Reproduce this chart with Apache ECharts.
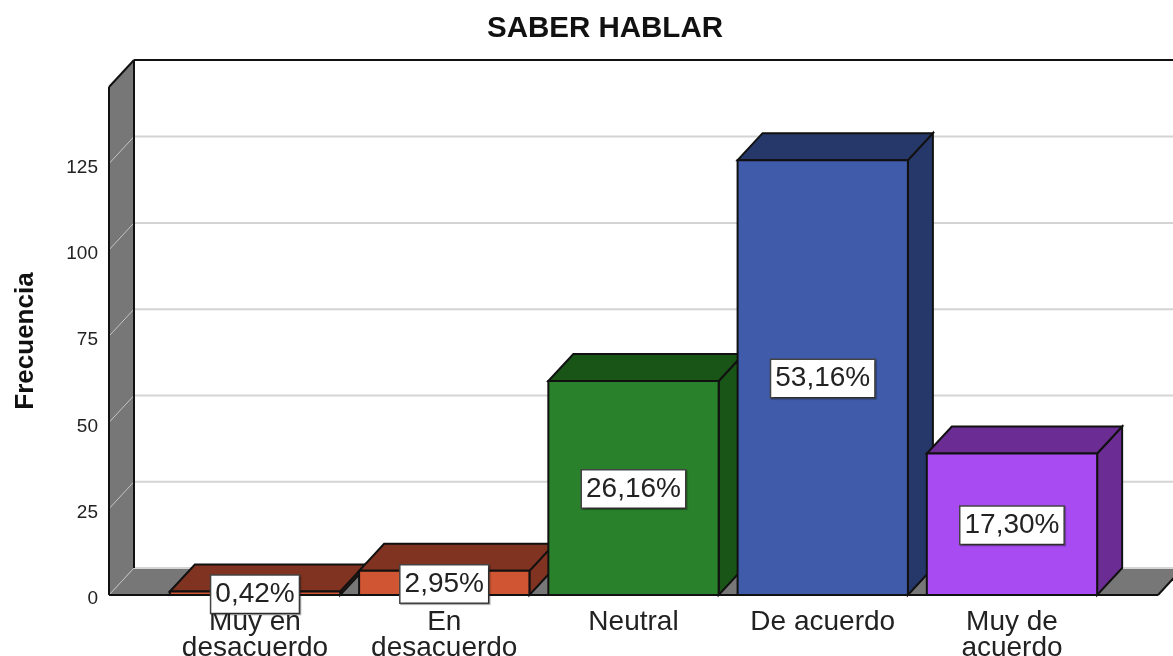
<!DOCTYPE html>
<html>
<head>
<meta charset="utf-8">
<style>html,body{margin:0;padding:0;background:#fff}#c{width:1173px;height:656px}</style>
<script src="https://cdn.jsdelivr.net/npm/echarts@6/dist/echarts.min.js"></script>
</head>
<body>
<div id="c"></div>
<script>
const categories = ['Muy en\ndesacuerdo', 'En\ndesacuerdo', 'Neutral', 'De acuerdo', 'Muy de\nacuerdo'];
const counts = [1, 7, 62, 126, 41];
const percentLabels = ['0,42%', '2,95%', '26,16%', '53,16%', '17,30%'];
const tickValues = [0, 25, 50, 75, 100, 125];
const frontColors = ['#d05533', '#d05533', '#29822b', '#3f5ba9', '#a94bf2'];
const darkColors = ['#7f3320', '#7f3320', '#1a5518', '#263869', '#6b2c93'];

const DX = 25, DY = 27, WALL_LEFT = 51.4, FLOOR_RIGHT = 51.4;
const WALL = '#777777', GRID = '#d4d4d4', INK = '#111111';
const FONT = '"Liberation Sans", Arial, sans-serif';

function poly(points, fill, stroke, lw) {
  return { type: 'polygon', shape: { points }, style: { fill, stroke: stroke || 'none', lineWidth: lw || 0 } };
}
function line(x1, y1, x2, y2, stroke, lw) {
  return { type: 'line', shape: { x1, y1, x2, y2 }, style: { stroke, lineWidth: lw } };
}

const chart = echarts.init(document.getElementById('c'), null, { renderer: 'canvas' });
chart.setOption({
  animation: false,
  backgroundColor: '#fff',
  title: {
    text: 'SABER HABLAR', left: 482, top: 9,
    textStyle: { fontFamily: FONT, fontWeight: 'bold', fontSize: 29.5, color: '#111' }
  },
  grid: { left: 160.4, top: 87, width: 946.2, height: 508, outerBoundsMode: 'none' },
  xAxis: {
    type: 'category', data: categories,
    axisLine: { show: false }, axisTick: { show: false }, splitLine: { show: false },
    axisLabel: { interval: 0, margin: 14, fontFamily: FONT, fontSize: 28, lineHeight: 26, color: '#222' }
  },
  yAxis: {
    type: 'value', min: 0, max: 147.2, interval: 25, offset: 51.4,
    name: 'Frecuencia', nameLocation: 'middle', nameRotate: 90, nameGap: 70,
    nameTextStyle: { fontFamily: FONT, fontWeight: 'bold', fontSize: 26, color: '#111' },
    axisLine: { show: false }, axisTick: { show: false }, splitLine: { show: false },
    axisLabel: { margin: 11, showMaxLabel: false, fontFamily: FONT, fontSize: 19, color: '#222', verticalAlign: 'top', lineHeight: 8 }
  },
  series: [
    {
      type: 'custom', name: 'walls', coordinateSystem: 'cartesian2d', silent: true, z: 2,
      data: [[0, 0]],
      renderItem(params, api) {
        const c = params.coordSys;
        const L = c.x - WALL_LEFT, R = c.x + c.width + FLOOR_RIGHT, T = c.y, B = c.y + c.height;
        const W = api.getWidth();
        return { type: 'group', children: [
          { type: 'rect', shape: { x: L + DX, y: T - DY, width: W - L - DX, height: c.height }, style: { fill: '#fff' } },
          poly([[L, T], [L + DX, T - DY], [L + DX, B - DY], [L, B]], WALL),
          poly([[L, B], [L + DX, B - DY], [R + DX, B - DY], [R, B]], WALL),
        ] };
      }
    },
    {
      type: 'custom', name: 'gridlines', coordinateSystem: 'cartesian2d', silent: true, z: 3,
      data: tickValues.map(v => [0, v]),
      renderItem(params, api) {
        const c = params.coordSys;
        const y = api.coord([0, api.value(1)])[1];
        const L = c.x - WALL_LEFT;
        return { type: 'group', children: [
          line(L, y, L + DX, y - DY, '#c4c4c4', 1),
          line(L + DX, y - DY, api.getWidth(), y - DY, GRID, 2)
        ] };
      }
    },
    {
      type: 'custom', name: 'frame', coordinateSystem: 'cartesian2d', silent: true, z: 4,
      data: [[0, 0]],
      renderItem(params, api) {
        const c = params.coordSys;
        const L = c.x - WALL_LEFT, R = c.x + c.width + FLOOR_RIGHT, T = c.y, B = c.y + c.height;
        return { type: 'group', children: [
          line(L, T, L, B, INK, 2),
          line(L, T, L + DX, T - DY, INK, 2),
          line(L + DX, T - DY, api.getWidth(), T - DY, INK, 2),
          line(L + DX, T - DY, L + DX, B - DY, INK, 2),
          line(L, B, R, B, INK, 2),
          line(R, B, R + DX, B - DY, INK, 2)
        ] };
      }
    },
    {
      type: 'custom', name: 'Frecuencia', coordinateSystem: 'cartesian2d', silent: true, z: 5,
      encode: { x: 0, y: 1 },
      data: categories.map((c, i) => [i, counts[i]]),
      renderItem(params, api) {
        const i = params.dataIndex;
        const top = api.coord([api.value(0), api.value(1)]);
        const base = api.coord([api.value(0), 0]);
        const w = api.size([1, 0])[0] * 0.9;
        const l = top[0] - w / 2, r = top[0] + w / 2, t = top[1], b = base[1];
        const s = { stroke: INK, lineWidth: 2 };
        return { type: 'group', children: [
          poly([[r, t], [r + DX, t - DY], [r + DX, b - DY], [r, b]], darkColors[i], INK, 2),
          poly([[l, t], [l + DX, t - DY], [r + DX, t - DY], [r, t]], darkColors[i], INK, 2),
          { type: 'rect', shape: { x: l, y: t, width: w, height: b - t }, style: Object.assign({ fill: frontColors[i] }, s) }
        ] };
      }
    },
    {
      type: 'custom', name: 'etiquetas', coordinateSystem: 'cartesian2d', silent: true, z: 6,
      encode: { x: 0, y: 1 },
      data: categories.map((c, i) => [i, counts[i]]),
      renderItem(params, api) {
        const i = params.dataIndex;
        const p = api.coord([api.value(0), api.value(1) / 2]);
        return {
          type: 'text', x: p[0], y: p[1] + 1,
          style: {
            text: percentLabels[i], x: 0, y: 0, align: 'center', verticalAlign: 'middle',
            fontFamily: FONT, fontSize: 28, fill: '#222',
            backgroundColor: '#fff', borderColor: '#444', borderWidth: 1.5, padding: [7, 4, 2, 4],
            shadowColor: 'rgba(0,0,0,0.35)', shadowOffsetX: 1, shadowOffsetY: 1, shadowBlur: 1
          }
        };
      }
    }
  ]
});
</script>
</body>
</html>
